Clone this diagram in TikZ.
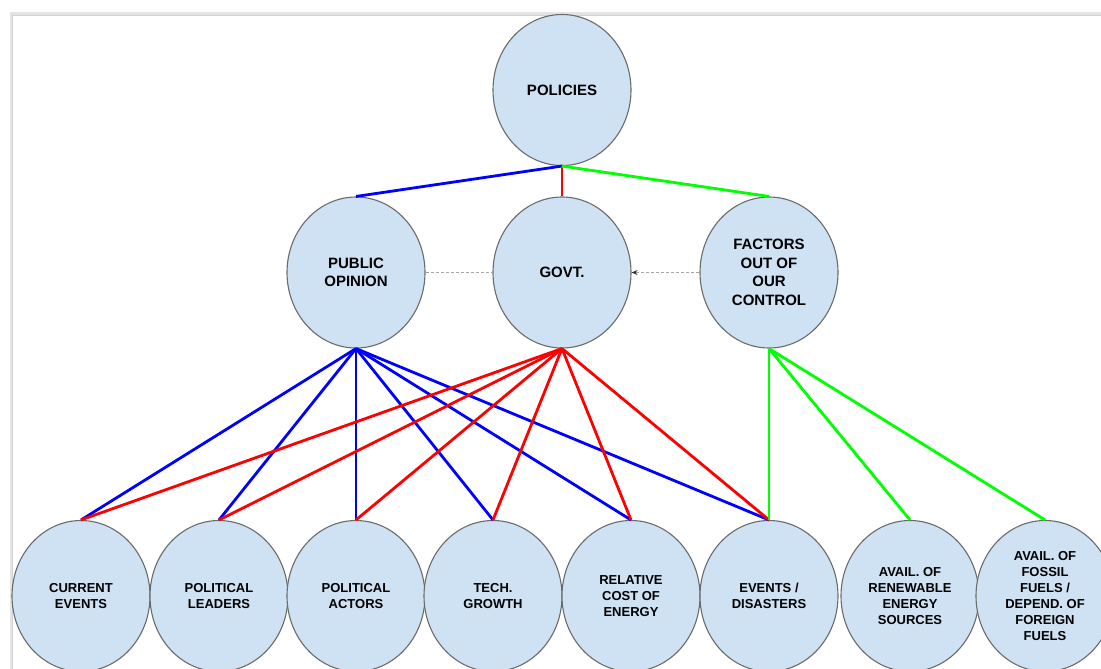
\documentclass[tikz,border=0pt]{standalone}
\usepackage{fontspec}
\setmainfont{Liberation Sans}
\usetikzlibrary{shapes.geometric,arrows.meta}
\definecolor{cfill}{HTML}{CFE2F3}
\definecolor{cline}{HTML}{6B6B6B}
\definecolor{frameg}{HTML}{E4E4E4}
\tikzset{
  circ/.style={ellipse,draw=cline,line width=1.1pt,fill=cfill,minimum width=138pt,minimum height=151pt,inner sep=0pt,align=center,font=\bfseries\fontsize{15}{18.5}\selectfont},
  small/.style={font=\bfseries\fontsize{13}{16}\selectfont},
  bl/.style={draw=blue,line width=2.8pt},
  rd/.style={draw=red,line width=2.8pt},
  gn/.style={draw=green,line width=2.8pt},
  dsh/.style={draw=gray!70,line width=1.3pt,dash pattern=on 3pt off 2pt}
}
\begin{document}
\begin{tikzpicture}[x=1pt,y=-1pt]
\useasboundingbox (0,0) rectangle (1101,669);
\clip (0,0) rectangle (1101,669);
\fill[white] (0,0) rectangle (1101,669);
\draw[frameg,line width=3pt] (11,672) -- (11,13.5) -- (1104,13.5);
\draw[gray!35,line width=0.8pt] (12.8,672) -- (12.8,15.3) -- (1104,15.3);
% nodes
\node[circ] (pol) at (562,90) {POLICIES};
\node[circ] (pub) at (356,272.5) {PUBLIC\\OPINION};
\node[circ] (gov) at (562,272.5) {GOVT.};
\node[circ] (fac) at (769,272.5) {FACTORS\\OUT OF\\OUR\\CONTROL};
\node[circ,small] (ce) at (81,596) {CURRENT\\EVENTS};
\node[circ,small] (pl) at (219,596) {POLITICAL\\LEADERS};
\node[circ,small] (pa) at (356,596) {POLITICAL\\ACTORS};
\node[circ,small] (tg) at (493,596) {TECH.\\GROWTH};
\node[circ,small] (rc) at (631,596) {RELATIVE\\COST OF\\ENERGY};
\node[circ,small] (ed) at (769,596) {EVENTS /\\DISASTERS};
\node[circ,small] (ar) at (910,596) {AVAIL. OF\\RENEWABLE\\ENERGY\\SOURCES};
\node[circ,small] (af) at (1045,596) {AVAIL. OF\\FOSSIL\\FUELS /\\DEPEND. OF\\FOREIGN\\FUELS};
% top connectors
\draw[bl] (pol.south) -- (pub.north);
\draw[rd] (pol.south) -- (gov.north);
\draw[gn] (pol.south) -- (fac.north);
% dashed
\draw[dsh] (pub.east) -- (gov.west);
\draw[dsh,-{Stealth[length=6pt,width=5pt,black!80]}] (fac.west) -- (gov.east);
% public opinion (blue)
\foreach \t in {ce,pl,pa,tg,rc,ed} { \draw[bl] (pub.south) -- (\t.north); }
% govt (red)
\foreach \t in {ce,pl,pa,tg,rc,ed} { \draw[rd] (gov.south) -- (\t.north); }
% factors (green)
\foreach \t in {ed,ar,af} { \draw[gn] (fac.south) -- (\t.north); }
\end{tikzpicture}
\end{document}
